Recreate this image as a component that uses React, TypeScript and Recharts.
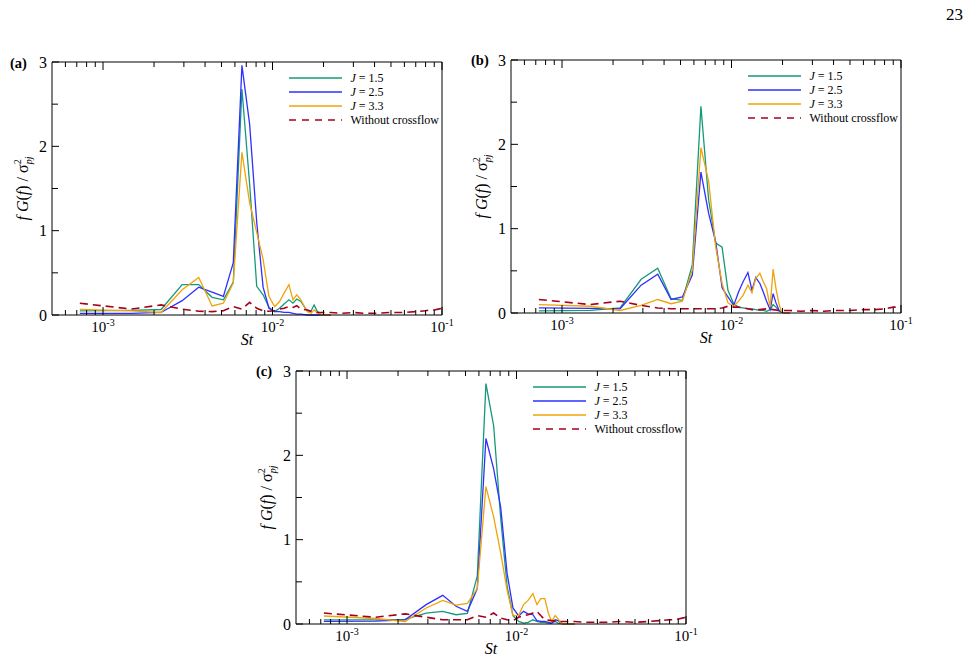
import { Legend, Line, LineChart, XAxis, YAxis } from 'recharts'

const FONT = '"Liberation Serif", "Times New Roman", serif'

// Strouhal numbers of the spectral bins (jet-in-crossflow cases)
const stJet = [
  0.00073, 0.00147, 0.0022, 0.00293, 0.00367, 0.0044, 0.00513, 0.00587, 0.0066, 0.00733,
  0.00807, 0.0088, 0.00953, 0.0103, 0.011, 0.0117, 0.0125, 0.0132, 0.0139, 0.0147,
  0.0154, 0.0161, 0.0169, 0.0176, 0.0183, 0.0191, 0.0198, 0.0205, 0.022,
]

// Strouhal numbers for the free-jet (no crossflow) reference spectrum
const stRef = [
  0.00073, 0.00147, 0.0022, 0.00293, 0.00367, 0.0044, 0.00513, 0.00587, 0.0066, 0.00733,
  0.00807, 0.0088, 0.00953, 0.0103, 0.011, 0.0117, 0.0125, 0.0132, 0.0139, 0.0147,
  0.0161, 0.0176, 0.0191, 0.022, 0.0257, 0.03, 0.035, 0.04, 0.05, 0.06,
  0.07, 0.08, 0.085, 0.09, 0.095, 0.1,
]

// panel (a)
const aJ15 = [0.05, 0.055, 0.065, 0.36, 0.36, 0.21, 0.18, 0.39, 2.68, 1.55, 0.34, 0.24, 0.09, 0.04, 0.08, 0.13, 0.18, 0.14, 0.19, 0.16, 0.1, 0.04, 0.05, 0.12, 0.05, 0.01, 0.005, 0, 0]
const aJ25 = [0.02, 0.02, 0.03, 0.17, 0.33, 0.27, 0.22, 0.62, 2.96, 2.26, 1.1, 0.33, 0.08, 0.04, 0.04, 0.03, 0.03, 0.02, 0.01, 0.01, 0.005, 0, 0, 0, 0, 0, 0, 0, 0]
const aJ33 = [0.065, 0.05, 0.03, 0.3, 0.445, 0.107, 0.14, 0.38, 1.93, 1.33, 0.98, 0.66, 0.22, 0.1, 0.16, 0.26, 0.36, 0.18, 0.24, 0.18, 0.1, 0.04, 0.02, 0.06, 0.03, 0.01, 0, 0, 0]
const aRef = [0.14, 0.07, 0.12, 0.07, 0.045, 0.04, 0.05, 0.1, 0.07, 0.15, 0.08, 0.05, 0.045, 0.05, 0.07, 0.08, 0.1, 0.09, 0.11, 0.07, 0.06, 0.03, 0.03, 0.03, 0.02, 0.03, 0.02, 0.02, 0.03, 0.03, 0.04, 0.05, 0.06, 0.06, 0.07, 0.08]

// panel (b)
const bJ15 = [0.025, 0.03, 0.06, 0.4, 0.53, 0.17, 0.15, 0.57, 2.45, 1.34, 0.83, 0.78, 0.27, 0.11, 0.07, 0.06, 0.05, 0.05, 0.04, 0.03, 0.03, 0.02, 0.04, 0.1, 0.07, 0.02, 0.01, 0, 0]
const bJ25 = [0.06, 0.055, 0.05, 0.33, 0.46, 0.16, 0.19, 0.45, 1.67, 1.18, 0.84, 0.3, 0.19, 0.09, 0.25, 0.37, 0.48, 0.27, 0.42, 0.35, 0.25, 0.14, 0.04, 0.23, 0.12, 0.03, 0.01, 0, 0]
const bJ33 = [0.1, 0.08, 0.03, 0.09, 0.16, 0.11, 0.14, 0.51, 1.96, 1.56, 0.78, 0.35, 0.12, 0.08, 0.14, 0.21, 0.33, 0.24, 0.41, 0.47, 0.37, 0.29, 0.07, 0.52, 0.29, 0.1, 0.01, 0, 0]
const bRef = [0.16, 0.1, 0.14, 0.09, 0.06, 0.05, 0.05, 0.05, 0.05, 0.05, 0.05, 0.06, 0.08, 0.07, 0.07, 0.06, 0.05, 0.04, 0.04, 0.04, 0.05, 0.04, 0.03, 0.03, 0.02, 0.03, 0.02, 0.03, 0.03, 0.04, 0.04, 0.05, 0.06, 0.07, 0.07, 0.08]

// panel (c)
const cJ15 = [0.05, 0.05, 0.055, 0.13, 0.15, 0.11, 0.125, 0.57, 2.85, 2.35, 1.25, 0.45, 0.1, 0.03, 0.01, 0.02, 0.05, 0.03, 0.02, 0.02, 0.01, 0.01, 0.03, 0.01, 0.005, 0, 0, 0, 0]
const cJ25 = [0.03, 0.035, 0.05, 0.23, 0.34, 0.21, 0.15, 0.42, 2.2, 1.84, 1.38, 0.6, 0.19, 0.095, 0.15, 0.12, 0.11, 0.04, 0.03, 0.03, 0.02, 0.01, 0.05, 0.04, 0.01, 0, 0, 0, 0]
const cJ33 = [0.095, 0.065, 0.03, 0.19, 0.28, 0.225, 0.245, 0.42, 1.63, 1.27, 0.84, 0.4, 0.1, 0.1, 0.23, 0.28, 0.36, 0.23, 0.3, 0.3, 0.13, 0.03, 0.1, 0.06, 0.01, 0, 0, 0, 0]
const cRef = [0.13, 0.08, 0.12, 0.08, 0.05, 0.05, 0.05, 0.1, 0.08, 0.13, 0.07, 0.05, 0.04, 0.08, 0.1, 0.11, 0.13, 0.15, 0.1, 0.05, 0.04, 0.03, 0.03, 0.03, 0.02, 0.02, 0.02, 0.03, 0.02, 0.03, 0.04, 0.05, 0.05, 0.06, 0.07, 0.08]

const stTicks = [
  0.0006, 0.0007, 0.0008, 0.0009, 0.001, 0.002, 0.003, 0.004, 0.005, 0.006, 0.007, 0.008, 0.009,
  0.01, 0.02, 0.03, 0.04, 0.05, 0.06, 0.07, 0.08, 0.09, 0.1,
]
const yTicks = [0, 0.5, 1, 1.5, 2, 2.5, 3]

const legendItems = [
  { j: '1.5', color: '#16997a' },
  { j: '2.5', color: '#2f2fff' },
  { j: '3.3', color: '#f0a30a' },
]
const REF_COLOR = '#a6001c'

const isDecade = (v: number) => Math.abs(Math.log10(v) - Math.round(Math.log10(v))) < 1e-6

function BottomTick({ x, y, payload }: any) {
  const major = isDecade(payload.value)
  return (
    <g>
      <line x1={x} x2={x} y1={y} y2={y - (major ? 8 : 5)} stroke="#000" />
      {major && (
        <text x={x} y={y + 17} textAnchor="middle" fontFamily={FONT} fontSize={15} fill="#000">
          10
          <tspan dy={-6} fontSize={10}>
            {String(Math.round(Math.log10(payload.value)))}
          </tspan>
        </text>
      )}
    </g>
  )
}

function TopTick({ x, y, payload }: any) {
  const major = isDecade(payload.value)
  return <line x1={x} x2={x} y1={y} y2={y + (major ? 8 : 5)} stroke="#000" />
}

function LeftTick({ x, y, payload }: any) {
  const major = Number.isInteger(payload.value)
  return (
    <g>
      <line x1={x} x2={x + (major ? 7 : 6)} y1={y} y2={y} stroke="#000" />
      {major && (
        <text x={x - 5} y={y} dy="0.35em" textAnchor="end" fontFamily={FONT} fontSize={16} fill="#000">
          {payload.value}
        </text>
      )}
    </g>
  )
}

function RightTick({ x, y }: any) {
  return <line x1={x} x2={x - 7} y1={y} y2={y} stroke="#000" />
}

function YTitle({ viewBox }: any) {
  const cx = viewBox.x + viewBox.width - 24
  const cy = viewBox.y + viewBox.height / 2
  return (
    <text
      x={cx}
      y={cy}
      transform={`rotate(-90 ${cx} ${cy})`}
      textAnchor="middle"
      fontFamily={FONT}
      fontSize={16}
      fill="#000"
    >
      <tspan fontStyle="italic">f G</tspan>(<tspan fontStyle="italic">f</tspan>) / σ
      <tspan dy={-7} fontSize={10}>2</tspan>
      <tspan dx={-5} dy={11} fontSize={10} fontStyle="italic">pj</tspan>
    </text>
  )
}

function XTitle({ viewBox }: any) {
  return (
    <text
      x={viewBox.x + viewBox.width / 2}
      y={viewBox.y + 30}
      textAnchor="middle"
      fontFamily={FONT}
      fontSize={16}
      fontStyle="italic"
      fill="#000"
    >
      St
    </text>
  )
}

function LegendBox() {
  return (
    <svg width={175} height={58} style={{ display: 'block' }}>
      {legendItems.map((it, i) => (
        <g key={it.j}>
          <line x1={0} x2={53} y1={7 + i * 14} y2={7 + i * 14} stroke={it.color} strokeWidth={1.3} />
          <text x={61.5} y={7 + i * 14} dy="0.35em" fontFamily={FONT} fontSize={12} fill="#000">
            <tspan fontStyle="italic">J</tspan> = {it.j}
          </text>
        </g>
      ))}
      <line x1={0} x2={53} y1={49} y2={49} stroke={REF_COLOR} strokeWidth={1.6} strokeDasharray="7 6" />
      <text x={61.5} y={49} dy="0.35em" fontFamily={FONT} fontSize={12} fill="#000">
        Without crossflow
      </text>
    </svg>
  )
}

interface PanelProps {
  left: number
  top: number
  j15: number[]
  j25: number[]
  j33: number[]
  base: number[]
}

const W = 462
const H = 310

function Panel({ left, top, j15, j25, j33, base }: PanelProps) {
  const jet = (vals: number[]) => stJet.map((st, i) => ({ st, v: vals[i] }))
  const refData = stRef.map((st, i) => ({ st, v: base[i] }))
  const series = [j15, j25, j33]
  return (
    <div style={{ position: 'absolute', left: left - 60, top: top - 12 }}>
      <LineChart width={W} height={H} margin={{ top: 11, right: 11, bottom: 0, left: 0 }}>
        <XAxis
          xAxisId="b"
          dataKey="st"
          type="number"
          scale="log"
          domain={[0.0005, 0.1]}
          allowDataOverflow
          ticks={stTicks}
          interval={0}
          tickSize={0}
          tickMargin={0}
          tick={BottomTick}
          height={45}
          axisLine={{ stroke: '#000' }}
          label={{ content: XTitle }}
        />
        <XAxis
          xAxisId="t"
          orientation="top"
          dataKey="st"
          type="number"
          scale="log"
          domain={[0.0005, 0.1]}
          allowDataOverflow
          ticks={stTicks}
          interval={0}
          tickSize={0}
          tickMargin={0}
          tick={TopTick}
          height={1}
          axisLine={{ stroke: '#000' }}
        />
        <YAxis
          yAxisId="l"
          type="number"
          domain={[0, 3]}
          ticks={yTicks}
          interval={0}
          tickSize={0}
          tickMargin={0}
          tick={LeftTick}
          width={60}
          axisLine={{ stroke: '#000' }}
          label={{ content: YTitle }}
        />
        <YAxis
          yAxisId="r"
          orientation="right"
          type="number"
          domain={[0, 3]}
          ticks={yTicks}
          interval={0}
          tickSize={0}
          tickMargin={0}
          tick={RightTick}
          width={1}
          axisLine={{ stroke: '#000' }}
        />
        {series.map((vals, i) => (
          <Line
            key={legendItems[i].j}
            xAxisId="b"
            yAxisId="l"
            data={jet(vals)}
            dataKey="v"
            type="linear"
            stroke={legendItems[i].color}
            strokeWidth={1.3}
            dot={false}
            activeDot={false}
            isAnimationActive={false}
          />
        ))}
        <Line
          xAxisId="b"
          yAxisId="l"
          data={refData}
          dataKey="v"
          type="linear"
          stroke={REF_COLOR}
          strokeWidth={1.6}
          strokeDasharray="8 5"
          dot={false}
          activeDot={false}
          isAnimationActive={false}
        />
        <Legend
          layout="horizontal"
          verticalAlign="middle"
          align="center"
          content={LegendBox}
          wrapperStyle={{ left: 297, top: 21, width: 175, height: 58 }}
        />
      </LineChart>
    </div>
  )
}

export default function App() {
  return (
    <div style={{ position: 'absolute', left: 0, top: 0, width: 971, height: 661, background: '#fff' }}>
      <svg width={971} height={661} style={{ position: 'absolute', left: 0, top: 0 }}>
        <text x={946} y={20} fontFamily={FONT} fontSize={17} fill="#000">
          23
        </text>
        <text x={10} y={68} fontFamily={FONT} fontSize={14.5} fontWeight="bold" fill="#000">
          (a)
        </text>
        <text x={471} y={65} fontFamily={FONT} fontSize={14.5} fontWeight="bold" fill="#000">
          (b)
        </text>
        <text x={256} y={376} fontFamily={FONT} fontSize={14.5} fontWeight="bold" fill="#000">
          (c)
        </text>
      </svg>
      <Panel left={52} top={62} j15={aJ15} j25={aJ25} j33={aJ33} base={aRef} />
      <Panel left={511} top={60} j15={bJ15} j25={bJ25} j33={bJ33} base={bRef} />
      <Panel left={296} top={371} j15={cJ15} j25={cJ25} j33={cJ33} base={cRef} />
    </div>
  )
}
